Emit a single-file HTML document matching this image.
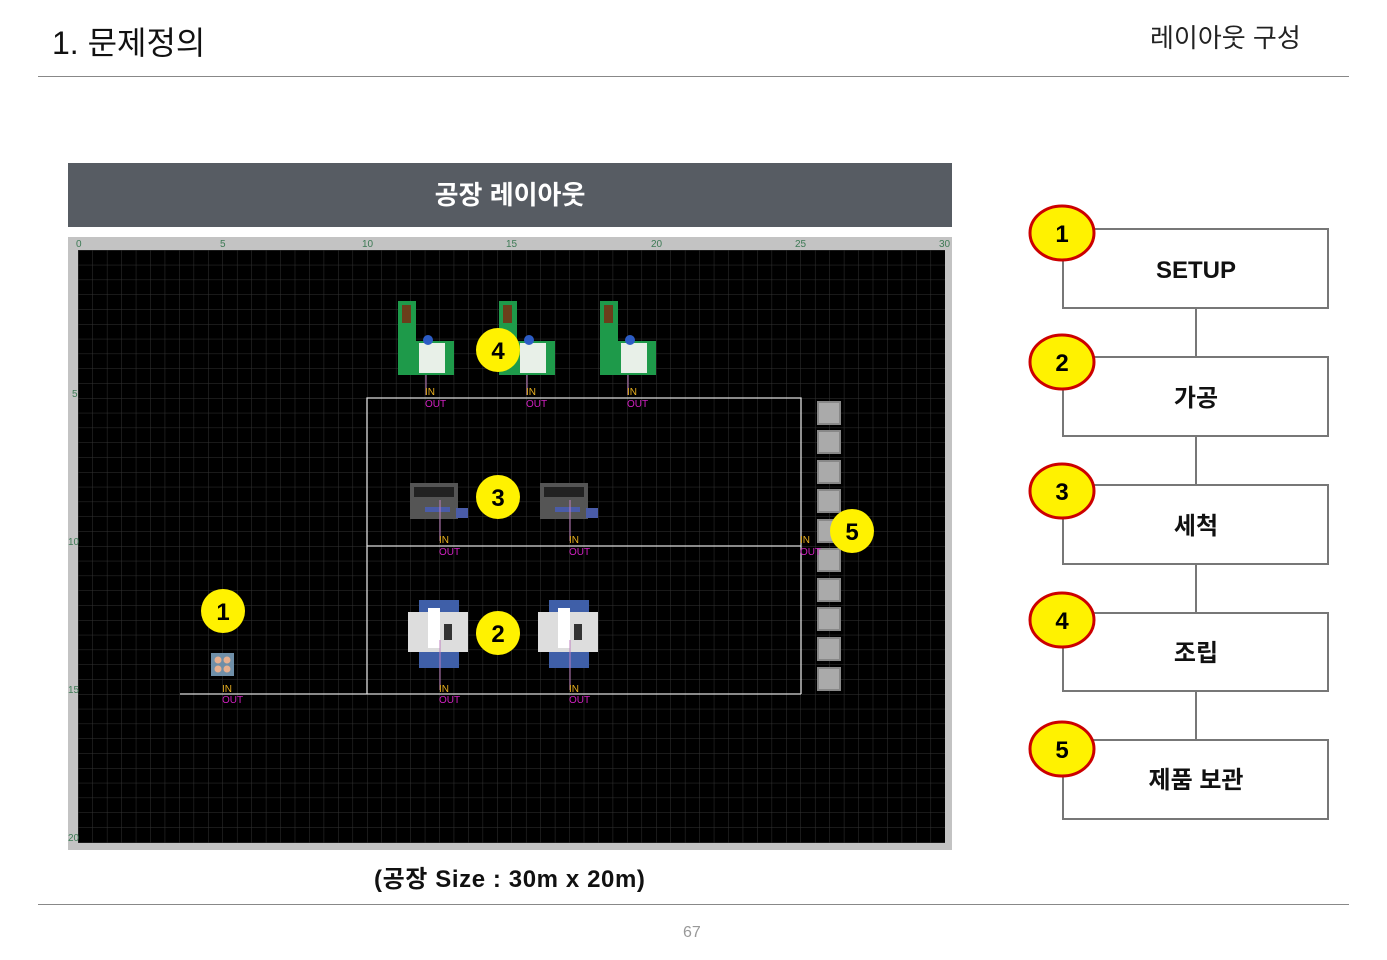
<!DOCTYPE html>
<html><head><meta charset="utf-8"><style>
body{margin:0;width:1387px;height:960px;background:#fff;font-family:"Liberation Sans","Noto Sans CJK KR",sans-serif;overflow:hidden;position:relative}
.abs{position:absolute}
</style></head><body>
<div class="abs" style="left:52px;top:18px;font-size:32px;color:#111">1. 문제정의</div>
<div class="abs" style="left:1150px;top:18px;font-size:26px;color:#222">레이아웃 구성</div>
<div class="abs" style="left:38px;top:76px;width:1311px;height:1px;background:#888"></div>
<div class="abs" style="left:38px;top:904px;width:1311px;height:1px;background:#888"></div>
<div class="abs" style="left:683px;top:924px;font-size:16px;color:#999">67</div>
<div class="abs" style="left:68px;top:163px;width:884px;height:64px;background:#575c63;color:#fff;font-size:26px;font-weight:bold;text-align:center;line-height:64px">공장 레이아웃</div>
<div class="abs" style="left:374px;top:859px;font-size:24px;font-weight:bold;color:#111;letter-spacing:0.6px">(공장 Size : 30m x 20m)</div>
<svg class="abs" style="left:0;top:0" width="1387" height="960">
<defs>
<pattern id="g" x="78" y="250" width="14.45" height="14.8" patternUnits="userSpaceOnUse">
<path d="M0 0H14.45M0 0V14.8" stroke="#333" stroke-width="1" fill="none"/>
</pattern>
</defs>
<rect x="68" y="237" width="884" height="613" fill="#c3c3c3"/>
<rect x="78" y="250" width="867" height="593" fill="#000"/>
<rect x="78" y="250" width="867" height="593" fill="url(#g)"/>
<g font-size="10" fill="#3d7a55" font-family="Liberation Sans">
<text x="76" y="247">0</text><text x="220" y="247">5</text><text x="362" y="247">10</text><text x="506" y="247">15</text><text x="651" y="247">20</text><text x="795" y="247">25</text><text x="939" y="247">30</text>
<text x="72" y="397">5</text><text x="68" y="545">10</text><text x="68" y="693">15</text><text x="68" y="841">20</text>
</g>
<g stroke="#ddd" stroke-width="1.3" fill="none">
<path d="M367 694V398H801V694M367 546H801M180 694H801"/>
</g>
<g fill="#aaa" stroke="#888" stroke-width="2">
<rect x="818" y="402" width="22" height="22"/><rect x="818" y="431" width="22" height="22"/><rect x="818" y="461" width="22" height="22"/><rect x="818" y="490" width="22" height="22"/><rect x="818" y="520" width="22" height="22"/><rect x="818" y="549" width="22" height="22"/><rect x="818" y="579" width="22" height="22"/><rect x="818" y="608" width="22" height="22"/><rect x="818" y="638" width="22" height="22"/><rect x="818" y="668" width="22" height="22"/>
</g>
<g id="m">
<rect x="398" y="301" width="18" height="74" fill="#1e9a4a"/><rect x="398" y="341" width="56" height="34" fill="#1e9a4a"/><rect x="402" y="305" width="9" height="18" fill="#6b3e1b"/><rect x="419" y="343" width="26" height="30" fill="#e8f0e8"/><circle cx="428" cy="340" r="5" fill="#2c5cc5"/><line x1="426" y1="375" x2="426" y2="395" stroke="#c080c0"/>
</g>
<use href="#m" x="101"/><use href="#m" x="202"/>
<g id="w"><rect x="410" y="483" width="48" height="36" fill="#555"/><rect x="414" y="487" width="40" height="10" fill="#222"/><rect x="456" y="508" width="12" height="10" fill="#4a5ca8"/><rect x="425" y="507" width="25" height="5" fill="#4a5ca8"/><line x1="440" y1="500" x2="440" y2="541" stroke="#c080c0"/></g>
<use href="#w" x="130"/>
<g id="c"><rect x="419" y="600" width="40" height="68" fill="#3f5fa8"/><rect x="408" y="612" width="60" height="40" fill="#ddd"/><rect x="428" y="608" width="12" height="40" fill="#fff"/><rect x="444" y="624" width="8" height="16" fill="#333"/><line x1="440" y1="640" x2="440" y2="690" stroke="#c080c0"/></g>
<use href="#c" x="130"/>
<rect x="211" y="653" width="23" height="23" fill="#6f8fa8"/><circle cx="218" cy="660" r="3.5" fill="#e8b090"/><circle cx="227" cy="660" r="3.5" fill="#e8b090"/><circle cx="218" cy="669" r="3.5" fill="#e8b090"/><circle cx="227" cy="669" r="3.5" fill="#e8b090"/>
<g font-size="10" font-family="Liberation Sans">
<g fill="#e8b020"><text x="425" y="395">IN</text><text x="526" y="395">IN</text><text x="627" y="395">IN</text><text x="439" y="543">IN</text><text x="569" y="543">IN</text><text x="800" y="543">IN</text><text x="439" y="692">IN</text><text x="569" y="692">IN</text><text x="222" y="692">IN</text></g>
<g fill="#d020c0"><text x="425" y="407">OUT</text><text x="526" y="407">OUT</text><text x="627" y="407">OUT</text><text x="439" y="555">OUT</text><text x="569" y="555">OUT</text><text x="800" y="555">OUT</text><text x="439" y="703">OUT</text><text x="569" y="703">OUT</text><text x="222" y="703">OUT</text></g>
</g>
<g fill="#fff200" font-size="24" font-weight="bold" font-family="Liberation Sans" text-anchor="middle">
<circle cx="498" cy="350" r="22"/><circle cx="498" cy="497" r="22"/><circle cx="498" cy="633" r="22"/><circle cx="852" cy="531" r="22"/><circle cx="223" cy="611" r="22"/>
<g fill="#000"><text x="498" y="359">4</text><text x="498" y="506">3</text><text x="498" y="642">2</text><text x="852" y="540">5</text><text x="223" y="620">1</text></g>
</g>
<g stroke="#777" stroke-width="2" fill="#fff">
<line x1="1196" y1="308" x2="1196" y2="740"/>
<rect x="1063" y="229" width="265" height="79"/><rect x="1063" y="357" width="265" height="79"/><rect x="1063" y="485" width="265" height="79"/><rect x="1063" y="613" width="265" height="78"/><rect x="1063" y="740" width="265" height="79"/>
</g>
<g font-size="24" font-weight="bold" text-anchor="middle" fill="#111" font-family="Liberation Sans, Noto Sans CJK KR, sans-serif">
<text x="1196" y="278">SETUP</text><text x="1196" y="406">가공</text><text x="1196" y="534">세척</text><text x="1196" y="661">조립</text><text x="1196" y="788">제품 보관</text>
</g>
<g fill="#fff200" stroke="#c00" stroke-width="3">
<ellipse cx="1062" cy="233" rx="32" ry="27"/><ellipse cx="1062" cy="362" rx="32" ry="27"/><ellipse cx="1062" cy="491" rx="32" ry="27"/><ellipse cx="1062" cy="620" rx="32" ry="27"/><ellipse cx="1062" cy="749" rx="32" ry="27"/>
</g>
<g font-size="24" font-weight="bold" text-anchor="middle" fill="#000" font-family="Liberation Sans">
<text x="1062" y="242">1</text><text x="1062" y="371">2</text><text x="1062" y="500">3</text><text x="1062" y="629">4</text><text x="1062" y="758">5</text>
</g>
</svg>
</body></html>
